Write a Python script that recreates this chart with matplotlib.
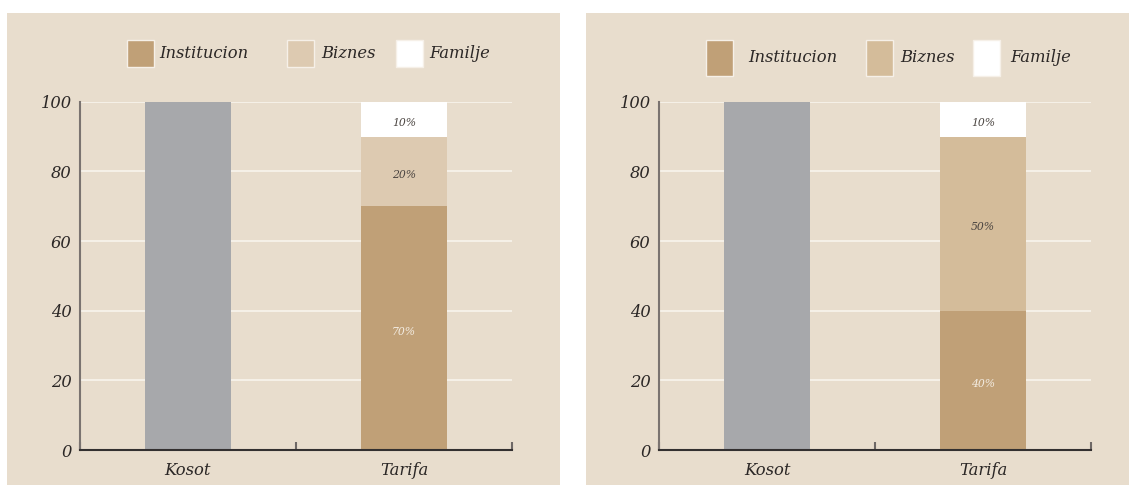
import matplotlib.pyplot as plt
from matplotlib.patches import Rectangle

W, H = 1129, 486

categories = ['Kosot', 'Tarifa']
kosot_value = 100
series_labels = ['Institucion', 'Biznes', 'Familje']
left_tarifa = [70, 20, 10]
right_tarifa = [40, 50, 10]
yticks = [0, 20, 40, 60, 80, 100]

BG = '#e8ddcd'
GREY = '#a7a8ab'
INST = '#c0a077'
BIZ_LEFT = '#ddcab1'
BIZ_RIGHT = '#d4bc9a'
FAM = '#ffffff'
TXT = '#2b2726'

plt.rcParams['font.family'] = ['DejaVu Serif']
plt.rcParams['font.style'] = 'italic'


def px(x, y, w, h):
    # pixel box (top-left origin) -> figure fraction
    return [x / W, (H - y - h) / H, w / W, h / H]


fig = plt.figure(figsize=(W / 100, H / 100), dpi=100, facecolor='white')


def panel(bg_box, ax_x, tarifa, biz_color, legend_pos, patch_h):
    bx, by, bw, bh = px(*bg_box)
    fig.patches.append(Rectangle((bx, by), bw, bh, transform=fig.transFigure,
                                 facecolor=BG, edgecolor='none', zorder=-10))
    ax = fig.add_axes(px(ax_x, 101.7, 432, 348.3))
    ax.set_zorder(5)
    ax.set_facecolor('none')
    ax.set_xlim(-0.5, 1.5)
    ax.set_ylim(0, 100)

    for t in yticks[1:]:
        ax.axhline(t, color='#faf6f0', lw=1.1, zorder=1)

    ax.bar(0, kosot_value, width=0.4, color=GREY, zorder=2)
    colors = [INST, biz_color, FAM]
    text_colors = ['#f3ece2', '#4a4440', '#4a4440']
    bottom = 0
    for val, c, tc in zip(tarifa, colors, text_colors):
        ax.bar(1, val, width=0.4, bottom=bottom, color=c, zorder=2)
        ax.text(1, bottom + val / 2 - 1, f'{val}%', ha='center', va='center',
                fontsize=7.8, color=tc, zorder=3)
        bottom += val

    ax.set_yticks(yticks)
    ax.set_yticklabels([str(t) for t in yticks], fontsize=11.8, color=TXT)
    ax.tick_params(axis='y', length=0, pad=6)
    ax.set_xticks([-0.5, 0.5, 1.5])
    ax.set_xticklabels([])
    ax.tick_params(axis='x', direction='in', length=6, width=1.5, color='#6e6866')
    for i, cat in enumerate(categories):
        ax.text(i, -3.5, cat, ha='center', va='top', fontsize=11.8, color=TXT)

    for s in ['top', 'right']:
        ax.spines[s].set_visible(False)
    ax.spines['left'].set_color('#7a7370')
    ax.spines['left'].set_linewidth(1.5)
    ax.spines['bottom'].set_color('#333030')
    ax.spines['bottom'].set_linewidth(1.5)

    for (patch_x, text_x), lab, c in zip(legend_pos, series_labels, colors):
        r = px(patch_x, 40, 27, patch_h)
        fig.patches.append(Rectangle((r[0], r[1]), r[2], r[3], transform=fig.transFigure,
                                     facecolor=c, edgecolor='#f6f0e8', lw=1.0, zorder=1))
        fig.text(text_x / W, 1 - (40 + patch_h / 2) / H, lab, ha='left', va='center',
                 fontsize=11.8, color=TXT)


panel((7, 13, 553, 472), 80, left_tarifa, BIZ_LEFT,
      [(127, 159), (287, 321), (396, 429)], 27)
panel((586, 13, 543, 472), 659, right_tarifa, BIZ_RIGHT,
      [(706, 748), (866, 900), (973, 1010)], 36)

fig.savefig('out.png', dpi=100, facecolor='white')
